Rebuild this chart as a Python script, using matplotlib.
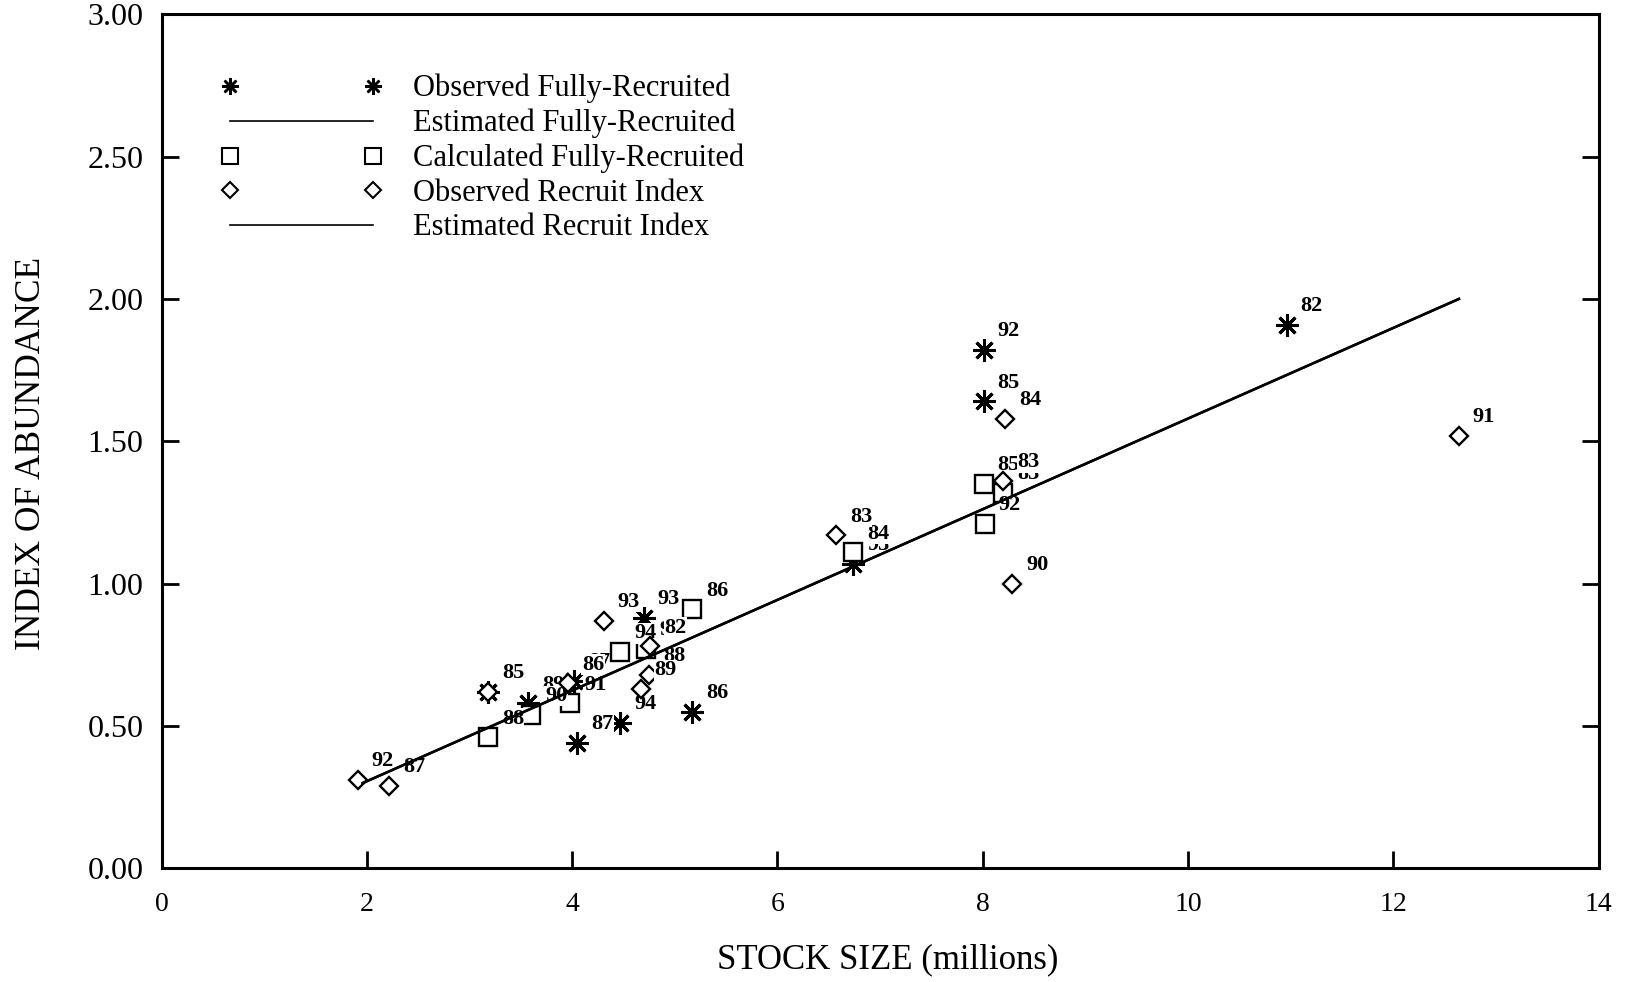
import numpy as np
import matplotlib.pyplot as plt
from matplotlib.lines import Line2D

plt.rcParams['font.family'] = ['Liberation Serif', 'DejaVu Serif']

# observed fully-recruited index (asterisks)
obs_fr_x = [10.96, 8.01, 8.01, 6.74, 5.17, 4.70, 4.47, 4.05, 4.02, 3.57, 3.18]
obs_fr_y = [1.91, 1.82, 1.64, 1.07, 0.55, 0.88, 0.51, 0.44, 0.66, 0.58, 0.62]
obs_fr_yr = ['82', '92', '85', '93', '86', '93', '94', '87', '87', '89', '84']

# calculated fully-recruited index (squares)
calc_fr_x = [8.01, 8.20, 8.02, 6.74, 5.17, 4.47, 4.72, 3.98, 3.60, 3.18]
calc_fr_y = [1.35, 1.32, 1.21, 1.11, 0.91, 0.76, 0.77, 0.58, 0.54, 0.46]
calc_fr_yr = ['85', '83', '92', '84', '86', '94', '93', '91', '90', '88']

# observed recruit index (diamonds)
obs_ri_x = [12.64, 8.22, 8.20, 8.29, 6.57, 4.31, 4.76, 4.75, 4.67, 3.96, 3.18, 1.91, 2.22]
obs_ri_y = [1.52, 1.58, 1.36, 1.00, 1.17, 0.87, 0.78, 0.68, 0.63, 0.65, 0.62, 0.31, 0.29]
obs_ri_yr = ['91', '84', '83', '90', '83', '93', '82', '88', '89', '86', '85', '92', '87']

# estimated lines (both fits lie on top of each other)
est_x = [1.96, 12.64]
est_fr_y = [0.30, 2.00]
est_ri_y = [0.30, 2.00]

star = (8, 2, 0)

fig = plt.figure(figsize=(16.33, 9.82), dpi=100)
ax = fig.add_axes([0.0989, 0.1156, 0.880, 0.870])


def label_points(xs, ys, years, z):
    for x, y, yr in zip(xs, ys, years):
        ax.annotate(yr, (x, y), xytext=(18, 13.5), textcoords='offset points',
                    ha='center', va='center', fontsize=16, fontweight='bold',
                    zorder=z, bbox=dict(fc='white', ec='none', pad=0.3))


ax.plot(obs_fr_x, obs_fr_y, ls='none', marker=star, ms=16, mew=2.2,
        color='black', zorder=3)
label_points(obs_fr_x, obs_fr_y, obs_fr_yr, 4)

ax.plot(calc_fr_x, calc_fr_y, ls='none', marker='s', ms=13, mew=1.7,
        mfc='white', mec='black', zorder=5)
label_points(calc_fr_x, calc_fr_y, calc_fr_yr, 6)

ax.plot(obs_ri_x, obs_ri_y, ls='none', marker='D', ms=9, mew=1.7,
        mfc='white', mec='black', zorder=7)
label_points(obs_ri_x, obs_ri_y, obs_ri_yr, 8)

ax.plot(est_x, est_fr_y, color='black', lw=1.8, zorder=9)
ax.plot(est_x, est_ri_y, color='black', lw=1.8, zorder=9)

ax.set_xlim(0, 14)
ax.set_ylim(0, 3)
ax.set_xticks(np.arange(0, 15, 2))
ax.set_yticks(np.arange(0, 3.01, 0.5))
ax.yaxis.set_major_formatter('{x:.2f}')
ax.tick_params(direction='in', length=12, width=2, right=True, top=False)
ax.tick_params(axis='y', labelsize=23, pad=13)
ax.tick_params(axis='x', labelsize=20, pad=17)
for s in ax.spines.values():
    s.set_linewidth(2.2)

ax.set_xlabel('STOCK SIZE (millions)', fontsize=25, va='center')
ax.xaxis.set_label_coords(0.505, -0.107)
ax.set_ylabel('INDEX OF ABUNDANCE', fontsize=25.5, va='center')
ax.yaxis.set_label_coords(-0.0906, 0.486)

handles = [
    Line2D([], [], ls='none', marker=star, ms=12, mew=1.8, color='black'),
    Line2D([], [], color='black', lw=1.2),
    Line2D([], [], ls='none', marker='s', ms=11, mew=1.5, mfc='white', mec='black'),
    Line2D([], [], ls='none', marker='D', ms=8, mew=1.5, mfc='white', mec='black'),
    Line2D([], [], color='black', lw=1.2),
]
labels = ['Observed Fully-Recruited', 'Estimated Fully-Recruited',
          'Calculated Fully-Recruited', 'Observed Recruit Index',
          'Estimated Recruit Index']
ax.legend(handles, labels, loc='upper left', bbox_to_anchor=(0.041, 0.93),
          numpoints=2, handlelength=5.3, handletextpad=1.0, fontsize=22,
          labelspacing=0.18, frameon=False, borderpad=0, borderaxespad=0)

fig.savefig('out.png', dpi=100)
